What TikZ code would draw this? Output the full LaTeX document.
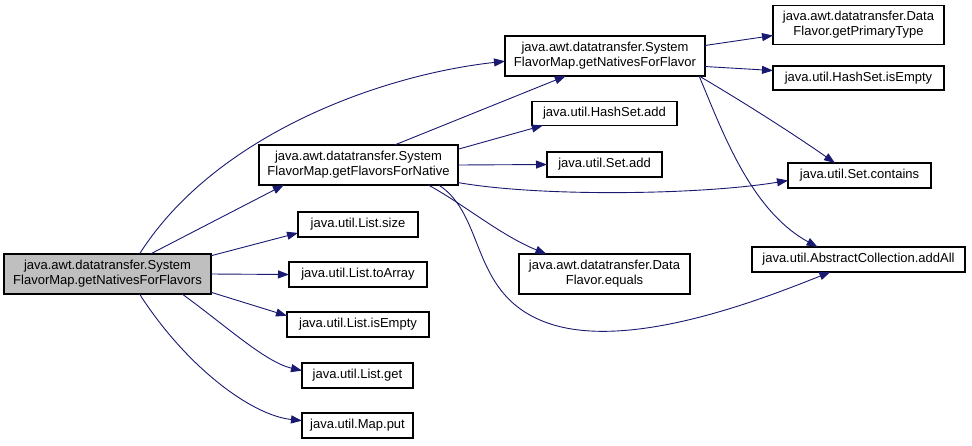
\documentclass[tikz,border=0pt]{standalone}
\usepackage{fontspec}
\setmainfont{Liberation Sans}
\usetikzlibrary{arrows.meta}
\definecolor{edgec}{HTML}{191970}
\definecolor{mainfill}{HTML}{BFBFBF}
\begin{document}
\begin{tikzpicture}[x=1pt,y=-1pt,
  box/.style={draw=black, line width=1.1pt, fill=white, inner sep=0pt, outer sep=0pt,
    align=center, text=black, font=\fontsize{13}{15}\selectfont},
  ed/.style={draw=edgec, line width=0.9pt, -{Triangle[length=11pt,width=8pt]}, edgec}]
\useasboundingbox (0,0) rectangle (972,445);
% nodes
\node[box, fill=mainfill, minimum width=207pt, minimum height=40pt] (main) at (107.5,274) {java.awt.datatransfer.System\\FlavorMap.getNativesForFlavors};
\node[box, minimum width=199pt, minimum height=40pt] (F) at (358.5,165) {java.awt.datatransfer.System\\FlavorMap.getFlavorsForNative};
\node[box, minimum width=200pt, minimum height=40pt] (N) at (605,56) {java.awt.datatransfer.System\\FlavorMap.getNativesForFlavor};
\node[box, minimum width=171pt, minimum height=39pt] (PT) at (858.5,25) {java.awt.datatransfer.Data\\Flavor.getPrimaryType};
\node[box, minimum width=171pt, minimum height=24pt] (hse) at (858.5,78) {java.util.HashSet.isEmpty};
\node[box, minimum width=143pt, minimum height=25pt] (cont) at (859.5,175.5) {java.util.Set.contains};
\node[box, minimum width=213pt, minimum height=25pt] (aa) at (858.5,259.5) {java.util.AbstractCollection.addAll};
\node[box, minimum width=145pt, minimum height=24pt] (hsa) at (604.5,113.5) {java.util.HashSet.add};
\node[box, minimum width=115pt, minimum height=25pt] (sa) at (604.5,164.5) {java.util.Set.add};
\node[box, minimum width=171pt, minimum height=40pt] (eq) at (604.5,274) {java.awt.datatransfer.Data\\Flavor.equals};
\node[box, minimum width=120pt, minimum height=25pt] (size) at (358,224.5) {java.util.List.size};
\node[box, minimum width=138pt, minimum height=25pt] (toA) at (358,274.5) {java.util.List.toArray};
\node[box, minimum width=142pt, minimum height=25pt] (isE) at (358,324.5) {java.util.List.isEmpty};
\node[box, minimum width=111pt, minimum height=25pt] (get) at (357.5,375.5) {java.util.List.get};
\node[box, minimum width=111pt, minimum height=25pt] (put) at (357.5,425.5) {java.util.Map.put};
% edges from main
\draw[ed] (main.32) .. controls (215,135) and (380,75) .. (N.183);
\draw[ed] (main.25) -- (F.195);
\draw[ed] (main.10) -- (size.188);
\draw[ed] (main.east) -- (toA.west);
\draw[ed] (main.-10) -- (isE.173);
\draw[ed] (main.-15) .. controls (225,325) and (265,362) .. (get.175);
\draw[ed] (main.-32) .. controls (185,365) and (250,415) .. (put.175);
% edges from F
\draw[ed] (F.29) -- (N.207);
\draw[ed] (F.9) -- (hsa.191);
\draw[ed] (F.east) -- (sa.west);
\draw[ed] (F.-10) .. controls (540,197) and (700,195) .. (cont.184);
\draw[ed] (F.-16) .. controls (465,205) and (500,235) .. (eq.161);
\draw[ed] (F.-14) .. controls (485,215) and (470,290) .. (540,320) .. controls (620,355) and (760,300) .. (aa.204);
% edges from N
\draw[ed] (N.6) -- (PT.187);
\draw[ed] (N.-6) -- (hse.175);
\draw[ed] (N.-12) .. controls (745,103) and (795,135) .. (cont.153);
\draw[ed] (N.-12) .. controls (722,130) and (750,210) .. (aa.163);
\end{tikzpicture}
\end{document}
